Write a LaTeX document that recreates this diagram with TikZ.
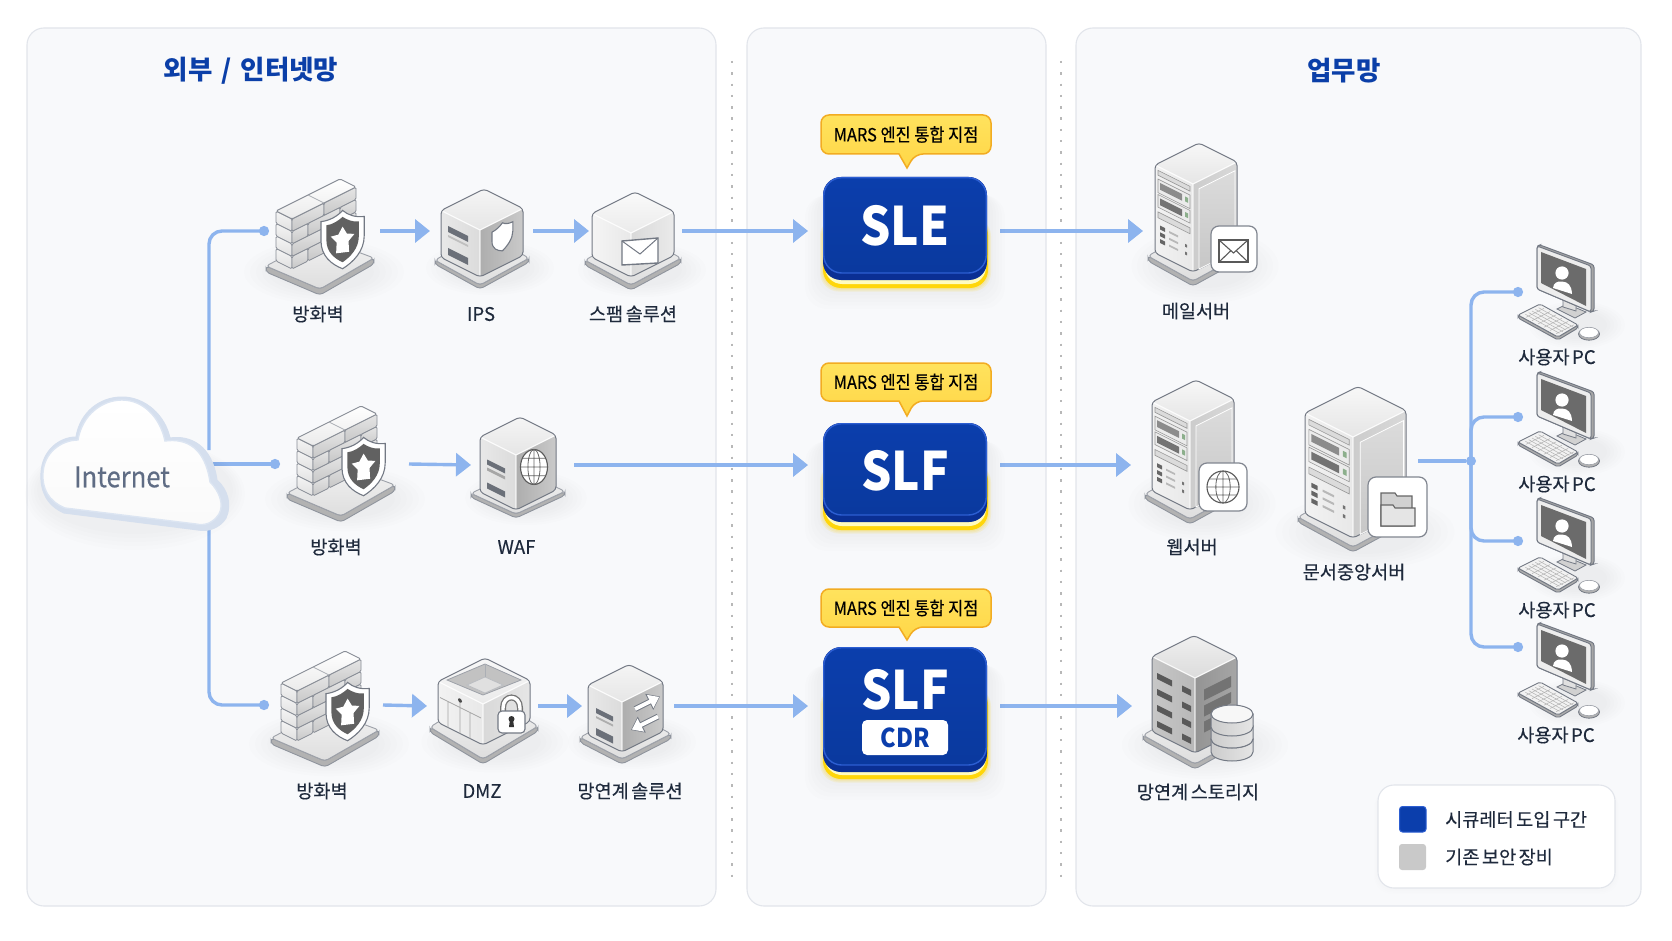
\documentclass[tikz,border=0pt]{standalone}
\usepackage{fontspec}
\newfontfamily\kr{Noto Sans CJK KR}
\newfontfamily\krm[FakeBold=0.25,WordSpace=0.6]{Noto Sans CJK KR}
\newfontfamily\krc[FakeStretch=0.9,FakeBold=0.25]{Noto Sans CJK KR}
\newfontfamily\krb[FakeStretch=0.9]{Noto Sans CJK KR}
\usetikzlibrary{arrows.meta}
\definecolor{wireblue}{HTML}{8DB4EE}
\definecolor{panelfill}{HTML}{F8F9FB}
\definecolor{panelline}{HTML}{E2E5EB}
\definecolor{titleblue}{HTML}{0B3FA8}
\definecolor{inktext}{HTML}{1F2A3C}
\definecolor{edgegray}{HTML}{737984}
\definecolor{slotgray}{HTML}{6B7079}
\definecolor{faceblue}{HTML}{0B3EAC}
\definecolor{faceedge}{HTML}{2C5ED2}
\definecolor{sideblue}{HTML}{0A2F94}
\definecolor{bubblefill}{HTML}{FFE04F}
\definecolor{bubbleline}{HTML}{F2AC22}
\definecolor{glow}{HTML}{FFD60A}
\definecolor{cloudside}{HTML}{D5DFEE}
\definecolor{cloudline}{HTML}{DCE5F2}
\definecolor{cloudtext}{HTML}{5F6C84}
\tikzset{
  wire/.style={draw=wireblue,line width=3.4pt},
  flow/.style={wire,-{Triangle[length=15pt,width=23pt]}},
  dotend/.style={wire,-{Circle[length=10pt,width=10pt]},rounded corners=13pt},
  zone/.style={draw=panelline,fill=panelfill,line width=1.1pt,rounded corners=17pt},
  divider/.style={draw=black!28,line width=2pt,dash pattern=on 2.4pt off 8.9pt},
  lab/.style={font=\krm\fontsize{18.6}{22}\selectfont,text=inktext,inner sep=0pt},
  paneltitle/.style={font=\kr\bfseries\fontsize{26.5}{30}\selectfont,text=titleblue,inner sep=0pt},
  bubbletext/.style={font=\krc\fontsize{18.2}{20}\selectfont,text=black,inner sep=0pt},
  bigtext/.style={font=\krb\bfseries\fontsize{53}{58}\selectfont,text=white,inner sep=0pt},
  portframe/.style={inner sep=0pt,outer sep=0pt,minimum height=40pt},
  edge/.style={draw=edgegray,line width=1pt},
  slot/.style={fill=slotgray},
}
\newcommand\softshadow[4]{%
  \foreach \k in {0,1,2,3,4,5}{\fill[black,opacity=.007] ({#1},{#2}) ellipse [x radius={(#3)*1pt*(1+\k*.12)},y radius={(#4)*1pt*(1+\k*.14)}];}}
\newcommand\port[4]{\node[portframe,minimum width={(#3-#2)*1pt}] (#1) at ({(#2+#3)/2},#4) {};}
% plate from four corners: left, front, right, back, thickness
\newcommand\diamondplate[9]{%
  \path[fill=black!30,draw=edgegray!80,line width=.9pt,rounded corners=3.5pt] ({#1},{#2}) -- ({#1},{#2+#9}) -- ({#3},{#4+#9}) -- ({#5},{#6+#9}) -- ({#5},{#6}) -- ({#3},{#4}) -- cycle;
  \path[top color=black!5,bottom color=black!13,draw=edgegray!70,line width=.9pt,rounded corners=3.5pt] ({#1},{#2}) -- ({#3},{#4}) -- ({#5},{#6}) -- ({#7},{#8}) -- cycle;
}
\newcommand\isoplate[6]{% a b H gx gy t
  \diamondplate{-#1-#4}{#3-#1/2+#5/3}{0}{#3+#5}{#2+#4}{#3-#2/2+#5/3}{#2-#1}{#3-(#1+#2)/2-#5/2}{#6}}
% box with front-top corner at the origin: a b H leftcolA leftcolB rightA rightB topA topB
\newcommand\isobox[9]{%
  \begin{scope}
    \clip[rounded corners=3.5pt] ({-#1},{-#1/2}) -- ({#2-#1},{-(#1+#2)/2}) -- (#2,{-#2/2}) -- (#2,{#3-#2/2}) -- (0,#3) -- ({-#1},{#3-#1/2}) -- cycle;
    \path[left color=#4,right color=#5] ({-#1},{-#1/2}) -- (0,0) -- (0,#3) -- ({-#1},{#3-#1/2}) -- cycle;
    \path[left color=#6,right color=#7] (0,0) -- (#2,{-#2/2}) -- (#2,{#3-#2/2}) -- (0,#3) -- cycle;
    \path[top color=#8,bottom color=#9] (0,0) -- ({-#1},{-#1/2}) -- ({#2-#1},{-(#1+#2)/2}) -- (#2,{-#2/2}) -- cycle;
  \end{scope}
  \draw[white,line width=1.2pt,opacity=.8] ({-#1},{-#1/2}) -- (0,0) -- (#2,{-#2/2}) (0,0) -- (0,#3);
  \draw[edge,rounded corners=3.5pt] ({-#1},{-#1/2}) -- ({#2-#1},{-(#1+#2)/2}) -- (#2,{-#2/2}) -- (#2,{#3-#2/2}) -- (0,#3) -- ({-#1},{#3-#1/2}) -- cycle;
}
\newcommand\plainbox[3]{\isobox{#1}{#2}{#3}{black!9}{black!14}{black!32}{black!21}{black!4}{black!10}}
\tikzset{lface/.style={shift={({-#1},{-#1/2})},cm={1,-0.5,0,1,(0,0)}},
         rface/.style={cm={1,0.5,0,1,(0,0)}}}
\newcommand\shieldicon[6]{% x y scale skew inner glyph
  \begin{scope}[shift={(#1,#2)},cm={1,#4,0,1,(0,0)},scale=#3]
    \path[fill=white,draw=edgegray,line width=1.1pt] (0,8) .. controls (8,8) and (15,5) .. (20,0) .. controls (25,5) and (32,8) .. (40,8) -- (40,26) .. controls (40,40) and (30,49) .. (20,54) .. controls (10,49) and (0,40) .. (0,26) -- cycle;
    \path[fill=#5] (5,12) .. controls (11,12) and (16,9) .. (20,6) .. controls (24,9) and (29,12) .. (35,12) -- (35,26) .. controls (35,37) and (27,44) .. (20,48) .. controls (13,44) and (5,37) .. (5,26) -- cycle;
    \ifnum#6=1
    \path[fill=white] (20,15) -- (24,22) -- (31,23) -- (25.5,29) -- (26,39) -- (14,39) -- (14.5,29) -- (9,23) -- (16,22) -- cycle;
    \fi
  \end{scope}}
\newcommand\walldevice[3]{% firewall at top-left x y, scale
  \softshadow{#1+58}{#2+92}{50}{19}
  \begin{scope}[shift={(#1,#2)},scale=#3]
    \diamondplate{0}{86}{54}{109}{108}{78}{54}{58}{6}
    \begin{scope}[shift={(10,31)},cm={1,-0.5,0,1,(0,0)}]
      \foreach \v in {0,12.5,25,37.5}{\path[top color=black!4,bottom color=black!12,draw=edgegray!85,line width=.8pt,rounded corners=1.5pt] (0,\v) rectangle (16,\v+12.5);}
    \end{scope}
    \begin{scope}[shift={(26,39)},cm={1,0.5,0,1,(0,0)}]
      \foreach \u/\w/\v in {0/32/0,32/64/0,0/16/12.5,16/48/12.5,48/64/12.5,0/32/25,32/64/25,0/16/37.5,16/48/37.5,48/64/37.5}{\path[top color=black!10,bottom color=black!22,draw=edgegray!85,line width=.8pt,rounded corners=1.5pt] (\u,\v) rectangle (\w,\v+12.5);}
    \end{scope}
    \path[top color=white,bottom color=black!8,draw=edgegray!85,line width=.9pt,rounded corners=1.5pt] (10,31) -- (74,-1) -- (90,7) -- (26,39) -- cycle;
    \draw[edgegray!60,line width=.7pt] (42,15) -- (58,23);
    \shieldicon{55}{33}{1.08}{0.12}{black!62}{1}
  \end{scope}}
\newcommand\badge[4]{\path[fill=white,draw=edgegray!90,line width=1.2pt,rounded corners=8pt] (#1,#2) rectangle (#3,#4);}
\newcommand\envelope[4]{%
  \path[fill=white,draw=black!65,line width=1.2pt] (#1,#2) rectangle (#3,#4);
  \draw[black!65,line width=1.1pt] (#1,#2) -- ({(#1+#3)/2},{(#2+#4)/2+2}) -- (#3,#2) (#1,#4) -- ({(#1+#3)/2-3},{(#2+#4)/2}) ({(#1+#3)/2+3},{(#2+#4)/2}) -- (#3,#4);}
\newcommand\globeicon[4]{% cx cy rx ry
  \path[fill=white,draw=black!65,line width=1.1pt] (#1,#2) ellipse [x radius=#3pt,y radius=#4pt];
  \draw[black!60,line width=.8pt] (#1,#2) ellipse [x radius=#3pt*.45,y radius=#4pt]
    (#1,{#2-#4}) -- (#1,{#2+#4}) ({#1-#3},#2) -- ({#1+#3},#2)
    ({#1-#3*.86},{#2-#4*.5}) -- ({#1+#3*.86},{#2-#4*.5}) ({#1-#3*.86},{#2+#4*.5}) -- ({#1+#3*.86},{#2+#4*.5});}
\newcommand\towericon[5]{% F'x F'y a b H
  \softshadow{#1+12}{#2+#5-6}{#3+8}{22}
  \begin{scope}[shift={(#1,#2)}]
    \isoplate{#3}{#4}{#5}{7}{9}{5}
    \isobox{#3}{#4}{#5}{black!5}{black!9}{black!20}{black!15}{black!3}{black!10}
    \begin{scope}[lface=#3,xscale=#3/38,yscale=#5/91]
      \path[fill=black!14,draw=black!40,line width=.6pt] (3,4) rectangle (35,9);
      \path[fill=black!8,draw=black!40,line width=.6pt] (3,13) rectangle (35,27);
      \fill[black!45] (5,16) rectangle (27,23);
      \fill[green!30!black!45] (30,17) rectangle (33,22);
      \path[fill=black!8,draw=black!40,line width=.6pt] (3,29) rectangle (35,42);
      \fill[black!55] (5,32) rectangle (27,39);
      \fill[green!30!black!45] (30,33) rectangle (33,38);
      \path[fill=black!14,draw=black!40,line width=.6pt] (3,47) rectangle (35,53);
      \foreach \v in {60,67,74}{\fill[black!60] (5,\v) rectangle (10,\v+4);\fill[black!28] (14,\v+1) rectangle (23,\v+3);}
      \fill[black!55] (30,66) rectangle (32,69) (30,74) rectangle (32,77);
    \end{scope}
    \begin{scope}[rface,xscale=#4/44,yscale=#5/91]
      \path[top color=black!14,bottom color=black!22,draw=white,line width=.8pt] (6,8) -- (42,8) -- (42,91) -- (6,91) -- cycle;
    \end{scope}
  \end{scope}}
\newcommand\pcicon[2]{% top-left of monitor
  \softshadow{#1+40}{#2+80}{30}{14}
  \begin{scope}[shift={(#1,#2)}]
    \path[fill=black!18,draw=edgegray,line width=.8pt] (20,64) -- (30,59) -- (49,67) -- (38,73) -- cycle;
    \path[fill=black!12,draw=edgegray,line width=.8pt] (26,50) -- (39,50) -- (39,66) -- (26,62) -- cycle;
    \path[fill=black!35,draw=edgegray,line width=1pt,rounded corners=2.5pt] (0,1) -- (3,0) -- (57,20) -- (57,66) -- (54,67) -- (0,44) -- cycle;
    \path[fill=black!7,draw=edgegray,line width=1pt,rounded corners=2.5pt] (0,1) -- (54,21) -- (54,67) -- (0,44) -- cycle;
    \path[fill=black!58] (4,7) -- (49,24) -- (49,61) -- (4,38) -- cycle;
    \fill[white] (25,28) circle [radius=6.6pt];
    \path[fill=white] (16,43) .. controls (16.5,38) and (20,36) .. (25,36.5) .. controls (31,37) and (34.5,40) .. (35,49) -- cycle;
    \path[fill=black!32,draw=edgegray,line width=.9pt,rounded corners=2pt] (-19,70) -- (-19,73) -- (21,95) -- (41,83) -- (41,80) -- (21,92) -- cycle;
    \path[fill=black!5,draw=edgegray,line width=.9pt,rounded corners=2pt] (-19,70) -- (3,59) -- (41,80) -- (21,92) -- cycle;
    \foreach \t in {.2,.35,.5,.65,.8}{\draw[black!30,line width=.5pt] ({-19+22*\t+3},{70-11*\t+1.5}) -- ({21+22*\t-3},{92-11*\t-1.5});}
    \foreach \t in {.15,.3,.45,.6,.75,.9}{\draw[black!30,line width=.5pt] ({-19+40*\t+2},{70+22*\t-1}) -- ({3+40*\t-2},{59+22*\t+1});}
    \path[fill=black!30,draw=edgegray,line width=.8pt] (52,89) ellipse [x radius=10.5pt,y radius=6.2pt];
    \path[fill=white,draw=edgegray!70,line width=.6pt] (52,87.5) ellipse [x radius=9.5pt,y radius=5.2pt];
  \end{scope}}
\newcommand\cyltier[2]{% top y, fill
  \path[left color=black!20,right color=black!10,draw=edgegray,line width=1pt] (1211,#1) -- (1211,{#1+13}) arc [start angle=180,end angle=360,x radius=21pt,y radius=9pt] -- (1253,#1) -- cycle;
  \path[fill=#2,draw=edgegray,line width=1pt] (1232,#1) ellipse [x radius=21pt,y radius=9pt];}
\newcommand\slstack[4]{% top faceBottom sideBottom yellowBottom
  \foreach \k in {1,...,6}{\fill[black,opacity=.008,rounded corners=22pt] ({823-\k*3},{#1+12+\k}) rectangle ({987+\k*3},{#4+\k*3.5});}
  \foreach \k in {1,2,3}{\fill[glow,opacity=.12,rounded corners=19pt] ({823-\k},{#1+40}) rectangle ({988+\k},{#4+\k*1.2});}
  \path[fill=glow,rounded corners=18pt] (823,{#1+40}) rectangle (988,#4);
  \path[fill=yellow!25,rounded corners=17pt] (825,{#1+40}) rectangle (986,{#4-4});
  \path[fill=sideblue,rounded corners=18pt] (823,#1) rectangle (987,#3);
  \path[top color=faceblue,bottom color=faceblue!92!black,draw=faceedge,line width=1.4pt,rounded corners=18pt] (823.7,{#1+.7}) rectangle (986.3,#2);}
\newcommand\bubble[3]{% top bottom tip
  \path[top color=bubblefill!92!white,bottom color=bubblefill!90!orange,draw=bubbleline,line width=1.5pt,rounded corners=8pt] (821,#1) -- (991,#1) -- (991,#2) -- (915,#2) [sharp corners] -- (907,#3) -- (899,#2) [rounded corners=8pt] -- (821,#2) -- cycle;}
\begin{document}
\begin{tikzpicture}[x=1pt,y=-1pt]
\useasboundingbox (0,0) rectangle (1672,941);
\fill[white] (0,0) rectangle (1672,941);
% zones
\path[zone] (27,28) rectangle (716,906);
\path[zone] (747,28) rectangle (1046,906);
\path[zone] (1076,28) rectangle (1641,906);
\coordinate (sepAtop) at (731.5,61);
\coordinate (sepAbot) at (731.5,880);
\coordinate (sepBtop) at (1061,61);
\coordinate (sepBbot) at (1061,880);
\draw[divider] (sepAtop) -- (sepAbot);
\draw[divider] (sepBtop) -- (sepBbot);
\node[paneltitle] (titleA) at (251,71) {외부 \hspace{3pt}/\hspace{3pt} 인터넷망};
\node[paneltitle] (titleB) at (1344,71) {업무망};
% connector ports
\port{fwA}{269}{380}{231}
\port{ips}{430}{533}{231}
\port{spam}{589}{682}{231}
\port{sle}{808}{1000}{231}
\port{mail}{1143}{1240}{231}
\port{fwB}{280}{409}{464}
\port{waf}{471}{574}{465}
\port{slf}{808}{1000}{465}
\port{web}{1131}{1240}{465}
\port{fwC}{269}{383}{705}
\port{dmz}{427}{538}{706}
\port{link}{582}{674}{706}
\port{cdr}{808}{1000}{706}
\port{store}{1132}{1250}{706}
\port{central}{1300}{1418}{461}
\port{pcA}{1523}{1600}{292}
\port{pcB}{1523}{1600}{417}
\port{pcC}{1523}{1600}{541}
\port{pcD}{1523}{1600}{647}
\coordinate (cloudUp) at (209,450);
\coordinate (cloudSide) at (205,464);
\coordinate (cloudDown) at (209,520);
% connectors
\draw[dotend] (cloudUp) |- (fwA.west);
\draw[dotend] (cloudSide) -- (fwB.west);
\draw[dotend] (cloudDown) |- (fwC.west);
\draw[flow] (fwA.east) -- (ips.west);
\draw[flow] (ips.east) -- (spam.west);
\draw[flow] (spam.east) -- (sle.west);
\draw[flow] (sle.east) -- (mail.west);
\draw[flow] (fwB.east) -- (waf.west);
\draw[flow] (waf.east) -- (slf.west);
\draw[flow] (slf.east) -- (web.west);
\draw[flow] (fwC.east) -- (dmz.west);
\draw[flow] (dmz.east) -- (link.west);
\draw[flow] (link.east) -- (cdr.west);
\draw[flow] (cdr.east) -- (store.west);
\node[circle,fill=wireblue,minimum size=10pt,inner sep=0pt] (bus) at (1471,461) {};
\draw[wire] (central.east) -- (bus);
\draw[dotend] (bus.center) |- (pcA.west);
\draw[dotend] (bus.center) |- (pcB.west);
\draw[dotend] (bus.center) |- (pcC.west);
\draw[dotend] (bus.center) |- (pcD.west);
% cloud
\foreach \k in {0,1,2,3,4}{\fill[black,opacity=.006] (135,{490+\k}) ellipse [x radius={98pt+\k*3pt},y radius={44pt+\k*3pt}];}
\path[fill=cloudside,draw=cloudside,line width=1pt] (64,513) .. controls (46,505) and (40,490) .. (41,473) .. controls (42,450) and (60,437) .. (76,437) .. controls (80,412) and (100,397) .. (122,397) .. controls (145,397) and (165,415) .. (170,438) .. controls (190,435) and (212,445) .. (217,480) .. controls (228,490) and (232,505) .. (226,518) .. controls (220,528) and (208,532) .. (198,530) -- cycle;
\path[top color=white,bottom color=black!2!white,draw=cloudline,line width=1.4pt] (65,508) .. controls (48,501) and (42,488) .. (43,473) .. controls (44,452) and (62,440) .. (78,440) .. controls (82,415) and (102,400) .. (122,400) .. controls (143,400) and (160,417) .. (165,441) .. controls (187,438) and (205,448) .. (210,482) .. controls (220,492) and (224,505) .. (219,514) .. controls (213,523) and (205,526) .. (196,524) -- cycle;
\node[font=\krc\fontsize{28.5}{32}\selectfont,text=cloudtext,inner sep=0pt] (internet) at (122,477) {Internet};
% row 1 devices
\walldevice{266}{180}{1}
\node[lab] (lfwA) at (318,314) {방화벽};
\softshadow{490}{268}{40}{16}
\begin{scope}[shift={(480,230)}]
  \isoplate{39}{43}{47}{6}{8}{4}
  \plainbox{39}{43}{47}
  \begin{scope}[lface=39]
    \fill[slot] (7,12) rectangle (27,18);
    \fill[black!25] (7,21) rectangle (27,23);
    \fill[slot] (7,34) rectangle (27,41);
  \end{scope}
\end{scope}
\shieldicon{492}{228}{.52}{.5}{white}{0}
\node[lab] (lips) at (481,314) {IPS};
\softshadow{642}{270}{40}{16}
\begin{scope}[shift={(631,233)}]
  \isoplate{39}{43}{44}{7}{8}{5}
  \isobox{39}{43}{44}{black!4}{black!9}{black!15}{black!8}{black!2}{black!8}
\end{scope}
\path[fill=white,draw=edgegray,line width=1.4pt] (622,241) -- (658,238) -- (658,263) -- (622,265) -- cycle;
\draw[edgegray,line width=1pt] (622,241) -- (640,254) -- (658,238);
\node[lab] (lspam) at (633,314) {스팸 솔루션};
% row 2 devices
\walldevice{287}{407}{1}
\node[lab] (lfwB) at (336,547) {방화벽};
\softshadow{526}{498}{38}{16}
\begin{scope}[shift={(516,455)}]
  \isoplate{36}{40}{55}{9}{4}{4}
  \plainbox{36}{40}{55}
  \begin{scope}[lface=36]
    \fill[slot] (7,19) rectangle (25,24);
    \fill[black!35] (7,27) rectangle (25,30);
    \fill[slot] (7,42) rectangle (25,48);
  \end{scope}
\end{scope}
\globeicon{534}{467}{13.5}{17.5}
\node[lab] (lwaf) at (516.5,547) {WAF};
% row 3 devices
\walldevice{271}{652}{1}
\node[lab] (lfwC) at (322,791) {방화벽};
\softshadow{495}{742}{46}{18}
\begin{scope}[shift={(483,704)}]
  \isoplate{45}{47}{41}{8}{14}{5}
  \isobox{45}{47}{41}{black!5}{black!9}{black!15}{black!10}{black!3}{black!8}
  \path[fill=black!24,draw=edgegray!70,line width=.8pt] (0,-9) -- (-36,-24) -- (2,-40) -- (38,-24) -- cycle;
  \path[fill=black!12,draw=edgegray!50,line width=.7pt] (2,-11) -- (-16,-19) -- (2,-27) -- (20,-19) -- cycle;
  \draw[edgegray!60,line width=.7pt] (2,-27) -- (2,-40);
  \begin{scope}[lface=45]
    \draw[black!35,line width=.8pt] (2,15) -- (43,15) (22,9) -- (22,41) (32,15) -- (32,41) (10,15) -- (10,41);
    \fill[black!70] (22,8) circle [radius=2pt];
  \end{scope}
\end{scope}
\draw[black!55,line width=6pt] (503,712) -- (503,708) .. controls (503,694) and (520,694) .. (520,708) -- (520,712);
\draw[white,line width=3.4pt] (503,712) -- (503,708) .. controls (503,694) and (520,694) .. (520,708) -- (520,712);
\path[fill=white,draw=edgegray,line width=1.1pt,rounded corners=4pt] (498,711) rectangle (525,733);
\fill[black!80] (511.5,719) circle [radius=3pt];
\fill[black!80] (510,719) -- (513,719) -- (514,727) -- (509,727) -- cycle;
\node[lab] (ldmz) at (482,791) {DMZ};
\softshadow{632}{742}{40}{16}
\begin{scope}[shift={(622,702)}]
  \isoplate{34}{41}{50}{8}{7}{5}
  \plainbox{34}{41}{50}
  \begin{scope}[lface=34]
    \fill[slot] (8,19) rectangle (25,24);
    \fill[black!32] (8,27) rectangle (25,29);
    \fill[slot] (8,39) rectangle (25,46);
  \end{scope}
  \begin{scope}[rface]
    \coordinate (swapAa) at (13,13.5);
    \coordinate (swapAb) at (38,13.5);
    \coordinate (swapBa) at (36,32.5);
    \coordinate (swapBb) at (9,32.5);
  \end{scope}
\end{scope}
\draw[edgegray,line width=5.8pt,-{Triangle[length=12pt,width=17pt]}] (swapAa) -- (swapAb);
\draw[edgegray,line width=5.8pt,-{Triangle[length=12pt,width=17pt]}] (swapBa) -- (swapBb);
\draw[white,line width=3.8pt,shorten >=1pt,-{Triangle[length=10pt,width=14pt]}] (swapAa) -- (swapAb);
\draw[white,line width=3.8pt,shorten >=1pt,-{Triangle[length=10pt,width=14pt]}] (swapBa) -- (swapBb);
\node[lab] (llink) at (630,791) {망연계 솔루션};
% integration boxes
\bubble{115}{154}{168}
\node[bubbletext] (bubA) at (906,134.5) {MARS 엔진 통합 지점};
\slstack{177}{273}{280}{288}
\node[bigtext] (sleText) at (905,226) {SLE};
\bubble{363}{401}{416}
\node[bubbletext] (bubB) at (906,382) {MARS 엔진 통합 지점};
\slstack{423}{515}{522}{530}
\node[bigtext] (slfText) at (905,471) {SLF};
\bubble{589}{627}{640}
\node[bubbletext] (bubC) at (906,608) {MARS 엔진 통합 지점};
\slstack{647}{765}{772}{779}
\node[bigtext] (cdrText) at (905,690) {SLF};
\node[fill=white,rounded corners=5pt,minimum width=86pt,minimum height=35pt,inner sep=0pt,font=\krb\bfseries\fontsize{26}{28}\selectfont,text=faceblue] (cdrTag) at (905,737.5) {CDR};
% right servers
\towericon{1193}{184}{38}{44}{88}
\badge{1211}{226}{1257}{272}
\envelope{1219}{240}{1248}{262}
\node[lab] (lmail) at (1196,311) {메일서버};
\towericon{1190}{421}{38}{44}{89}
\badge{1199}{463}{1247}{511}
\globeicon{1223}{487}{16}{16}
\node[lab] (lweb) at (1192,547) {웹서버};
\softshadow{1205}{745}{52}{20}
\begin{scope}[shift={(1195,678)}]
  \isoplate{43}{42}{75}{9}{11}{5}
  \isobox{43}{42}{75}{black!22}{black!28}{black!42}{black!35}{black!6}{black!14}
  \begin{scope}[lface=43]
    \foreach \v in {14,30,46,62}{\fill[black!65] (5,\v) rectangle (20,\v+6);\fill[black!65] (30,\v) rectangle (39,\v+6);}
  \end{scope}
  \begin{scope}[rface]
    \foreach \v in {16,32,48}{\fill[black!55] (9,\v) rectangle (36,\v+11);}
  \end{scope}
\end{scope}
\cyltier{739}{black!10}
\cyltier{726}{black!8}
\cyltier{714}{black!3}
\node[lab] (lstore) at (1198,792) {망연계 스토리지};
\towericon{1353}{437}{48}{53}{101}
\badge{1368}{477}{1427}{537}
\path[fill=black!18,draw=black!60,line width=1.1pt] (1381,526) -- (1381,493) -- (1395,493) -- (1397,496) -- (1412,496) -- (1412,526) -- cycle;
\path[fill=black!10,draw=black!60,line width=1.1pt] (1381,526) -- (1381,505) -- (1393,505) -- (1395,508) -- (1415,508) -- (1415,526) -- cycle;
\node[lab] (lcentral) at (1354,572) {문서중앙서버};
% PCs
\pcicon{1537}{245}
\node[lab] (lpcA) at (1557,357) {사용자 PC};
\pcicon{1537}{372}
\node[lab] (lpcB) at (1557,484) {사용자 PC};
\pcicon{1537}{498}
\node[lab] (lpcC) at (1557,610) {사용자 PC};
\pcicon{1537}{623}
\node[lab] (lpcD) at (1556,735) {사용자 PC};
% legend
\foreach \k in {1,2,3,4}{\fill[black,opacity=.005,rounded corners=18pt] ({1378-\k},{785+\k}) rectangle ({1615+\k},{888+\k*1.5});}
\path[fill=white,draw=panelline,line width=1.1pt,rounded corners=16pt] (1378,785) rectangle (1615,888);
\path[fill=faceblue,draw=faceedge,line width=1pt,rounded corners=3pt] (1399.5,806.5) rectangle (1426,832);
\path[fill=black!21,rounded corners=3pt] (1399,844) rectangle (1426,870);
\node[lab,anchor=west] (legA) at (1445,819.5) {시큐레터 도입 구간};
\node[lab,anchor=west] (legB) at (1445,857) {기존 보안 장비};
\end{tikzpicture}
\end{document}
